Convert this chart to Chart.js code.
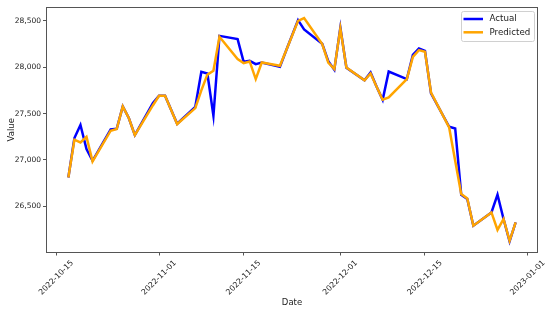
<!DOCTYPE html>
<html>
<head>
<meta charset="utf-8">
<script src="https://cdn.jsdelivr.net/npm/chart.js@4"></script>
<style>
  html, body { margin: 0; padding: 0; background: #fff; }
  #wrap { width: 550px; height: 311px; }
</style>
</head>
<body>
<div id="wrap"><canvas id="myChart" width="550" height="311"></canvas></div>
<script>
// trading days shown on the chart
var dates = [
    '2022-10-17', '2022-10-18', '2022-10-19', '2022-10-20', '2022-10-21',
    '2022-10-24', '2022-10-25', '2022-10-26', '2022-10-27', '2022-10-28',
    '2022-10-31', '2022-11-01', '2022-11-02', '2022-11-04',
    '2022-11-07', '2022-11-08', '2022-11-09', '2022-11-10', '2022-11-11',
    '2022-11-14', '2022-11-15', '2022-11-16', '2022-11-17', '2022-11-18',
    '2022-11-21', '2022-11-22', '2022-11-24', '2022-11-25',
    '2022-11-28', '2022-11-29', '2022-11-30', '2022-12-01', '2022-12-02',
    '2022-12-05', '2022-12-06', '2022-12-07', '2022-12-08', '2022-12-09',
    '2022-12-12', '2022-12-13', '2022-12-14', '2022-12-15', '2022-12-16',
    '2022-12-19', '2022-12-20', '2022-12-21', '2022-12-22', '2022-12-23',
    '2022-12-26', '2022-12-27', '2022-12-28', '2022-12-29', '2022-12-30'
];
var actual = [
    26810, 27236, 27376, 27117, 26991,
    27330, 27335, 27577, 27452, 27268,
    27615, 27692, 27692, 27390,
    27573, 27950, 27932, 27476, 28338,
    28303, 28058, 28069, 28033, 28051,
    28004, 28175, 28508, 28408,
    28252, 28064, 27972, 28428, 27994,
    27859, 27943, 27790, 27649, 27954,
    27872, 28134, 28201, 28177, 27717,
    27358, 27339, 26625, 26579, 26291,
    26434, 26625, 26363, 26122, 26327
];
var predicted = [
    26810, 27218, 27189, 27250, 26984,
    27315, 27333, 27577, 27452, 27268,
    27590, 27692, 27692, 27387,
    27559, 27750, 27920, 27961, 28328,
    28087, 28044, 28062, 27872, 28051,
    28015, 28175, 28500, 28529,
    28249, 28051, 27980, 28417, 27997,
    27859, 27932, 27790, 27650, 27674,
    27872, 28112, 28184, 28166, 27727,
    27350, 26990, 26632, 26585, 26291,
    26434, 26245, 26363, 26128, 26327
];
var xTickDates = ['2022-10-15', '2022-11-01', '2022-11-15', '2022-12-01', '2022-12-15', '2023-01-01'];
var yTicks = [26500, 27000, 27500, 28000, 28500];

function toDay(s) {
    return Date.UTC(+s.slice(0, 4), +s.slice(5, 7) - 1, +s.slice(8, 10)) / 86400000;
}
function fromDay(d) {
    return new Date(Math.round(d) * 86400000).toISOString().slice(0, 10);
}

var days = dates.map(toDay);
var xFirst = days[0], xLast = days[days.length - 1];
var xPad = (xLast - xFirst) * 0.05;
var allVals = actual.concat(predicted);
var yLo = Math.min.apply(null, allVals), yHi = Math.max.apply(null, allVals);
var yPad = (yHi - yLo) * 0.05;

var FONT = "'DejaVu Sans', sans-serif";
var AXIS_COLOR = '#555';

var framePlugin = {
    id: 'frame',
    afterDatasetsDraw: function (chart) {
        var a = chart.chartArea, ctx = chart.ctx;
        ctx.save();
        ctx.strokeStyle = AXIS_COLOR;
        ctx.lineWidth = 1;
        ctx.strokeRect(Math.round(a.left) + 0.5, Math.round(a.top) + 0.5,
            Math.round(a.right - a.left) - 1, Math.round(a.bottom - a.top) - 1);
        ctx.restore();
    }
};

var legendPlugin = {
    id: 'mplLegend',
    afterDraw: function (chart) {
        var a = chart.chartArea, ctx = chart.ctx;
        var boxW = 73, boxH = 30;
        var bx = a.right - 4 - boxW, by = a.top + 4;
        ctx.save();
        ctx.beginPath();
        ctx.roundRect(bx + 0.5, by + 0.5, boxW, boxH, 2);
        ctx.fillStyle = 'rgba(255,255,255,0.85)';
        ctx.fill();
        ctx.strokeStyle = '#d0d0d0';
        ctx.lineWidth = 1;
        ctx.stroke();
        ctx.font = '8.7px ' + FONT;
        ctx.textBaseline = 'middle';
        ctx.fillStyle = '#222';
        chart.data.datasets.forEach(function (ds, i) {
            var ry = by + 8 + i * 13.3;
            ctx.beginPath();
            ctx.moveTo(bx + 2.5, ry);
            ctx.lineTo(bx + 22, ry);
            ctx.strokeStyle = ds.borderColor;
            ctx.lineWidth = 2.5;
            ctx.stroke();
            ctx.fillText(ds.label, bx + 28.5, ry);
        });
        ctx.restore();
    }
};

var ctx = document.getElementById('myChart').getContext('2d');
var chart = new Chart(ctx, {
    type: 'line',
    data: {
        datasets: [{
            label: 'Actual',
            data: days.map(function (d, i) { return { x: d, y: actual[i] }; }),
            borderColor: '#0000ff',
            borderWidth: 2.5,
            pointRadius: 0,
            tension: 0,
            order: 1
        }, {
            label: 'Predicted',
            data: days.map(function (d, i) { return { x: d, y: predicted[i] }; }),
            borderColor: '#ffa500',
            borderWidth: 2.5,
            pointRadius: 0,
            tension: 0,
            order: 0
        }]
    },
    options: {
        responsive: false,
        animation: false,
        devicePixelRatio: 1,
        layout: { padding: { top: 7, right: 12, left: 0, bottom: 0 } },
        plugins: {
            legend: { display: false },
            tooltip: { enabled: false }
        },
        scales: {
            x: {
                type: 'linear',
                min: xFirst - xPad,
                max: xLast + xPad,
                afterBuildTicks: function (scale) {
                    scale.ticks = xTickDates.map(function (s) { return { value: toDay(s) }; });
                },
                afterFit: function (scale) { scale.height = 58.5; },
                grid: { drawOnChartArea: false, drawTicks: true, tickLength: 3, color: AXIS_COLOR },
                border: { display: false },
                ticks: {
                    autoSkip: false,
                    minRotation: 45,
                    maxRotation: 45,
                    padding: 3,
                    labelOffset: 16,
                    color: '#222',
                    font: { family: FONT, size: 7.8 },
                    callback: function (v) { return fromDay(v); }
                },
                title: {
                    display: true,
                    text: 'Date',
                    color: '#222',
                    font: { family: FONT, size: 8.5 },
                    padding: { top: 0, bottom: 3 }
                }
            },
            y: {
                min: yLo - yPad,
                max: yHi + yPad,
                afterBuildTicks: function (scale) {
                    scale.ticks = yTicks.map(function (v) { return { value: v }; });
                },
                afterFit: function (scale) { scale.width = 46; },
                grid: { drawOnChartArea: false, drawTicks: true, tickLength: 3, color: AXIS_COLOR },
                border: { display: false },
                ticks: {
                    padding: 2,
                    color: '#222',
                    font: { family: FONT, size: 7.5 },
                    callback: function (v) { return v.toLocaleString('en-US'); }
                },
                title: {
                    display: true,
                    text: 'Value',
                    color: '#222',
                    font: { family: FONT, size: 8.5 },
                    padding: { top: 6.5, bottom: 0 }
                }
            }
        }
    },
    plugins: [framePlugin, legendPlugin]
});
</script>
</body>
</html>
